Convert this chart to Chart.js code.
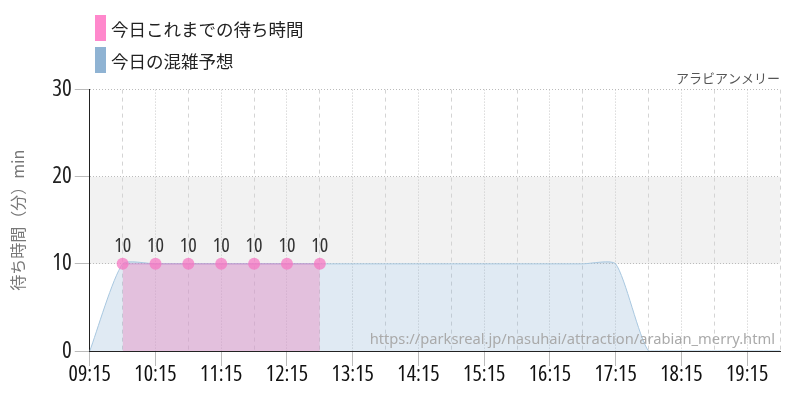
<!DOCTYPE html>
<html>
<head>
<meta charset="utf-8">
<script src="https://cdn.jsdelivr.net/npm/chart.js@4/dist/chart.umd.min.js"></script>
<style>
  body { margin: 0; background: #fff; }
  #wrap { position: relative; width: 800px; height: 400px; }
  .lg { position: absolute; left: 95px; height: 26px; display: flex; align-items: center;
        font-family: "Noto Sans CJK JP", sans-serif; font-size: 17.5px; color: #222; }
  .lg span { display: inline-block; width: 11px; height: 26px; margin-right: 5px; }
</style>
</head>
<body>
<div id="wrap">
  <canvas id="wait-chart"></canvas>
  <div class="lg" style="top:15px"><span style="background:#ff88cc"></span>今日これまでの待ち時間</div>
  <div class="lg" style="top:47px"><span style="background:#8fb3d3"></span>今日の混雑予想</div>
</div>
<script>
const times = [
  "09:15", "09:45", "10:15", "10:45", "11:15", "11:45", "12:15", "12:45",
  "13:15", "13:45", "14:15", "14:45", "15:15", "15:45", "16:15", "16:45",
  "17:15", "17:45", "18:15", "18:45", "19:15", "19:45"
];
const forecast = [0, 10, 10, 10, 10, 10, 10, 10, 10, 10, 10, 10, 10, 10, 10, 10, 10, 0, 0, 0, 0, 0];
const actual = [null, 10, 10, 10, 10, 10, 10, 10, null, null, null, null, null, null, null, null, null, null, null, null, null, null];
const yTicks = [0, 10, 20, 30];

// condensed face of Open Sans (passed through the weight slot of the font string)
const narrowFont = (size) => ({ family: "'Open Sans', sans-serif", size: size, weight: 'condensed', lineHeight: 1 });

// gray band between 10 and 20
const bandPlugin = {
  id: 'band',
  beforeDraw(chart) {
    const { ctx, chartArea, scales } = chart;
    const top = scales.y.getPixelForValue(20);
    const bottom = scales.y.getPixelForValue(10);
    ctx.save();
    ctx.fillStyle = '#f2f2f2';
    ctx.fillRect(chartArea.left, top, chartArea.right - chartArea.left, bottom - top);
    ctx.restore();
  }
};

// value labels over the pink points + watermark
const labelPlugin = {
  id: 'labels',
  afterDatasetsDraw(chart) {
    const { ctx, chartArea } = chart;
    ctx.save();
    ctx.font = "14.7px 'Noto Sans', sans-serif";
    ctx.fillStyle = '#aaa';
    ctx.textAlign = 'right';
    ctx.textBaseline = 'alphabetic';
    ctx.fillText('https://parksreal.jp/nasuhai/attraction/arabian_merry.html', chartArea.right - 5, chartArea.bottom - 7);

    const meta = chart.getDatasetMeta(1);
    ctx.font = "condensed 20px 'Open Sans', sans-serif";
    ctx.fillStyle = '#333';
    ctx.textAlign = 'center';
    meta.data.forEach((pt, i) => {
      const v = actual[i];
      if (v === null) return;
      ctx.fillText(String(v), pt.x, pt.y - 12);
    });
    ctx.restore();
  }
};

new Chart("wait-chart", {
  type: 'line',
  data: {
    labels: times,
    datasets: [{
      label: '今日の混雑予想',
      data: forecast,
      borderColor: '#a9c8e0',
      borderWidth: 1,
      backgroundColor: 'rgba(143,179,211,0.28)',
      fill: 'origin',
      tension: 0.2,
      pointRadius: 0,
      order: 2
    }, {
      label: '今日これまでの待ち時間',
      data: actual,
      borderColor: 'rgba(190,120,200,0.6)',
      borderWidth: 1,
      backgroundColor: 'rgba(230,150,200,0.5)',
      fill: 'origin',
      tension: 0,
      pointRadius: 6,
      pointBorderWidth: 0,
      pointBackgroundColor: 'rgba(245,120,195,0.75)',
      order: 1
    }]
  },
  options: {
    responsive: true,
    maintainAspectRatio: false,
    animation: false,
    layout: { padding: { top: 70, left: 8, right: 20, bottom: 16 } },
    plugins: {
      legend: { display: false },
      tooltip: { enabled: false },
      title: {
        display: true,
        text: 'アラビアンメリー',
        align: 'end',
        color: '#555',
        font: { family: "'Noto Sans CJK JP', sans-serif", size: 13, weight: 'normal' },
        padding: { top: 0, bottom: 4 }
      }
    },
    scales: {
      x: {
        ticks: {
          autoSkip: false,
          maxRotation: 0,
          padding: -2,
          color: '#111',
          font: narrowFont(22),
          callback: function (v, i) { return i % 2 === 0 ? this.getLabelForValue(v) : ''; }
        },
        grid: {
          color: (c) => c.index % 2 === 0 ? '#c8c8c8' : '#d4d4d4',
          tickColor: (c) => c.index % 2 === 0 ? '#bbb' : 'rgba(0,0,0,0)',
          tickLength: 15,
          tickBorderDash: []
        },
        border: {
          color: '#222',
          width: 1,
          dash: (c) => c.type === 'tick' ? (c.index % 2 === 0 ? [1, 2] : [4, 4]) : []
        }
      },
      y: {
        min: 0,
        max: 30,
        afterBuildTicks: (axis) => { axis.ticks = yTicks.map(v => ({ value: v })); },
        ticks: {
          padding: 3,
          color: '#222',
          font: narrowFont(23)
        },
        grid: {
          color: '#bbb',
          tickColor: '#bbb',
          tickLength: 15,
          tickBorderDash: []
        },
        border: {
          color: '#222',
          width: 1,
          dash: (c) => c.type === 'tick' ? [1, 2] : []
        },
        title: {
          display: true,
          text: '待ち時間（分）min',
          color: '#777',
          font: { family: "'Noto Sans CJK JP', sans-serif", size: 16 },
          padding: { top: 0, bottom: 22 }
        }
      }
    }
  },
  plugins: [bandPlugin, labelPlugin]
});
</script>
</body>
</html>
